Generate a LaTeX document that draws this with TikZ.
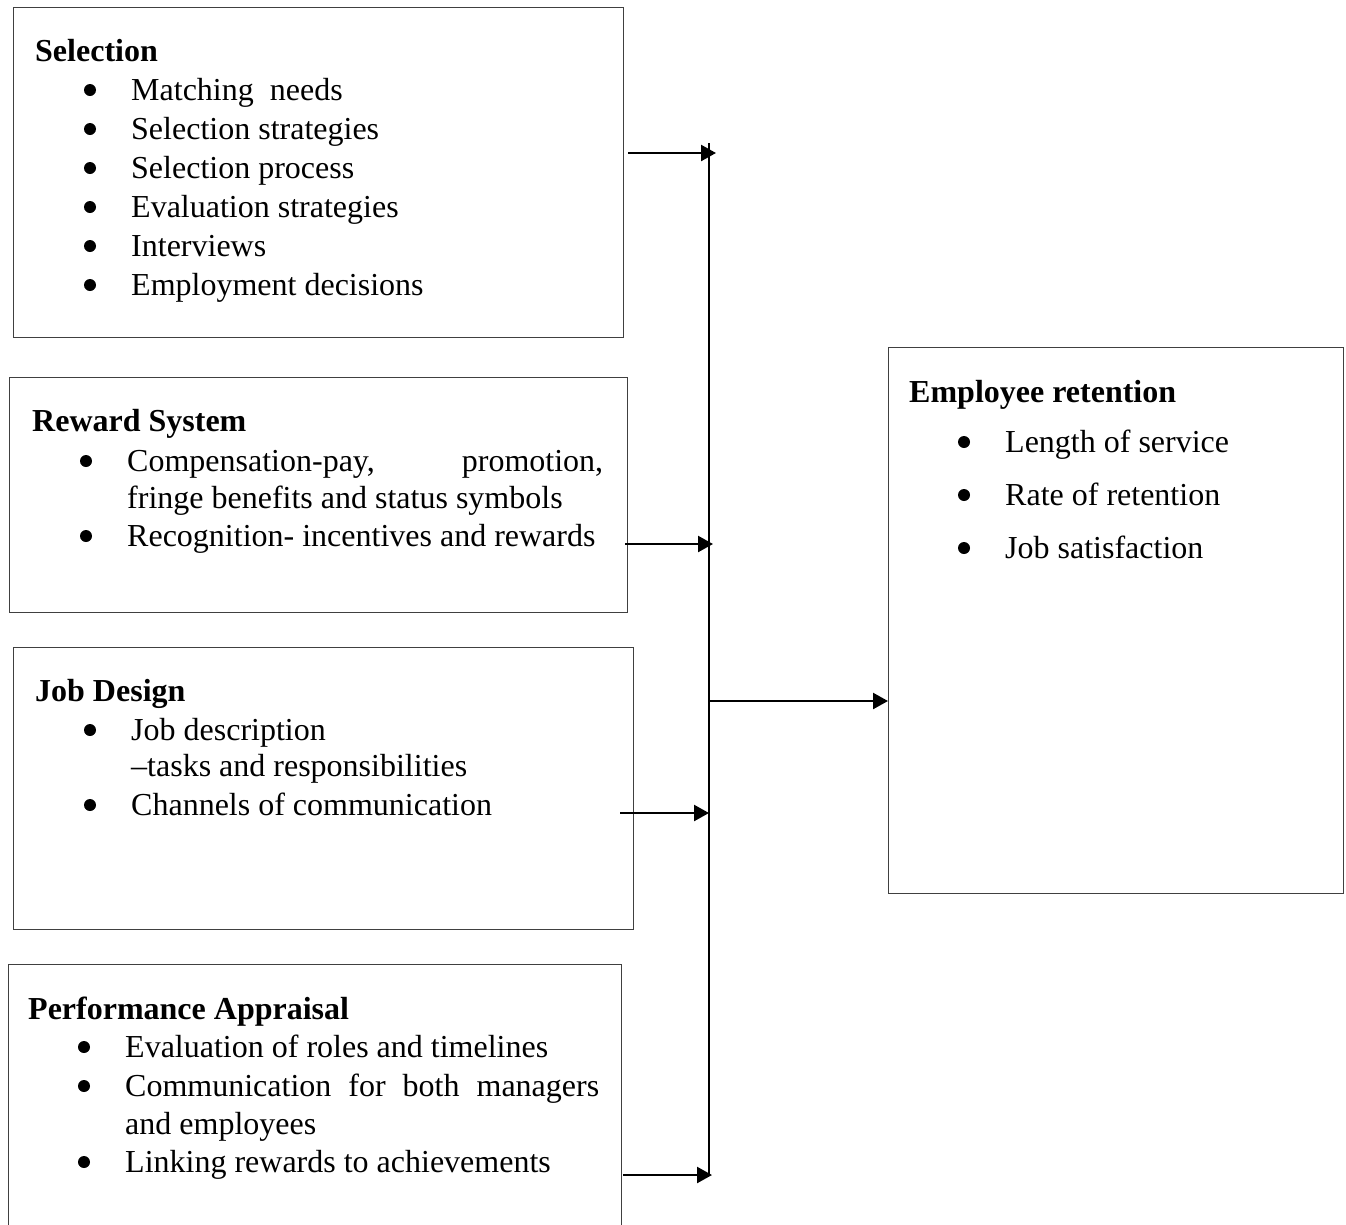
\documentclass[tikz,border=0pt]{standalone}
\usepackage{fontspec}
\setmainfont{Liberation Serif}
\usetikzlibrary{arrows.meta}
\begin{document}
\begin{tikzpicture}[x=1pt,y=-1pt,
  box/.style={draw=black!75, line width=1.3pt, anchor=north west, inner sep=0pt},
  ttl/.style={anchor=base west, inner sep=0pt, font=\fontsize{32}{39}\selectfont\bfseries},
  itm/.style={anchor=base west, inner sep=0pt, font=\fontsize{32}{39}\selectfont},
  bul/.style={fill=black},
  trunk/.style={line width=2.2pt},
  arr/.style={line width=2.4pt, -{Triangle[length=15pt,width=16pt]}}
]
\clip (0,0) rectangle (1346,1224);
\fill[white] (0,0) rectangle (1346,1224);
% boxes
\node[box, minimum width=610pt, minimum height=330pt] (sel) at (13,7) {};
\node[box, minimum width=618pt, minimum height=235pt] (rew) at (9,377) {};
\node[box, minimum width=620pt, minimum height=282pt] (job) at (13,647) {};
\node[box, minimum width=613pt, minimum height=300pt] (per) at (8,964) {};
\node[box, minimum width=455pt, minimum height=546pt] (emp) at (888,347) {};
% Selection
\node[ttl] (selT) at (35,61) {Selection};
\node[itm] (sel1) at (131,100) {Matching\ \ needs};
\node[itm] (sel2) at (131,139) {Selection strategies};
\node[itm] (sel3) at (131,178) {Selection process};
\node[itm] (sel4) at (131,217) {Evaluation strategies};
\node[itm] (sel5) at (131,256) {Interviews};
\node[itm] (sel6) at (131,295) {Employment decisions};
\foreach \yy in {90,129,168,207,246,285} \fill[bul] (90,\yy) circle[radius=6pt];
% Reward
\node[ttl] (rewT) at (32,431) {Reward System};
\node[itm] (rew1) at (127,471) {\makebox[476pt][s]{Compensation-pay, promotion,}};
\node[itm] (rew2) at (127,508) {fringe benefits and status symbols};
\node[itm] (rew3) at (127,546) {Recognition- incentives and rewards};
\foreach \yy in {461,536} \fill[bul] (86,\yy) circle[radius=6pt];
% Job design
\node[ttl] (jobT) at (35,701) {Job Design};
\node[itm] (job1) at (131,740) {Job description};
\node[itm] (job2) at (131,776) {–tasks and responsibilities};
\node[itm] (job3) at (131,815) {Channels of communication};
\foreach \yy in {730,805} \fill[bul] (90,\yy) circle[radius=6pt];
% Performance
\node[ttl] (perT) at (28,1019) {Performance Appraisal};
\node[itm] (per1) at (125,1057) {Evaluation of roles and timelines};
\node[itm] (per2) at (125,1096) {\makebox[474pt][s]{Communication for both managers}};
\node[itm] (per3) at (125,1134) {and employees};
\node[itm] (per4) at (125,1172) {Linking rewards to achievements};
\foreach \yy in {1047,1086,1162} \fill[bul] (84,\yy) circle[radius=6pt];
% Employee retention
\node[ttl] (empT) at (909,402) {Employee retention};
\node[itm] (emp1) at (1005,452) {Length of service};
\node[itm] (emp2) at (1005,505) {Rate of retention};
\node[itm] (emp3) at (1005,558) {Job satisfaction};
\foreach \yy in {442,495,548} \fill[bul] (964,\yy) circle[radius=6pt];
% connectors
\coordinate (ttop) at (709,143);
\coordinate (tbot) at (709,1176);
\coordinate (tj) at (709,701);
\coordinate (s1) at (628,153);
\coordinate (e1) at (716,153);
\coordinate (s2) at (625,544);
\coordinate (e2) at (713,544);
\coordinate (s3) at (620,813);
\coordinate (e3) at (709,813);
\coordinate (s4) at (623,1175);
\coordinate (e4) at (712,1175);
\draw[trunk] (ttop) -- (tbot);
\draw[arr] (s1) -- (e1);
\draw[arr] (s2) -- (e2);
\draw[arr] (s3) -- (e3);
\draw[arr] (s4) -- (e4);
\draw[arr] (tj) -- (tj -| emp.west);
\end{tikzpicture}
\end{document}
